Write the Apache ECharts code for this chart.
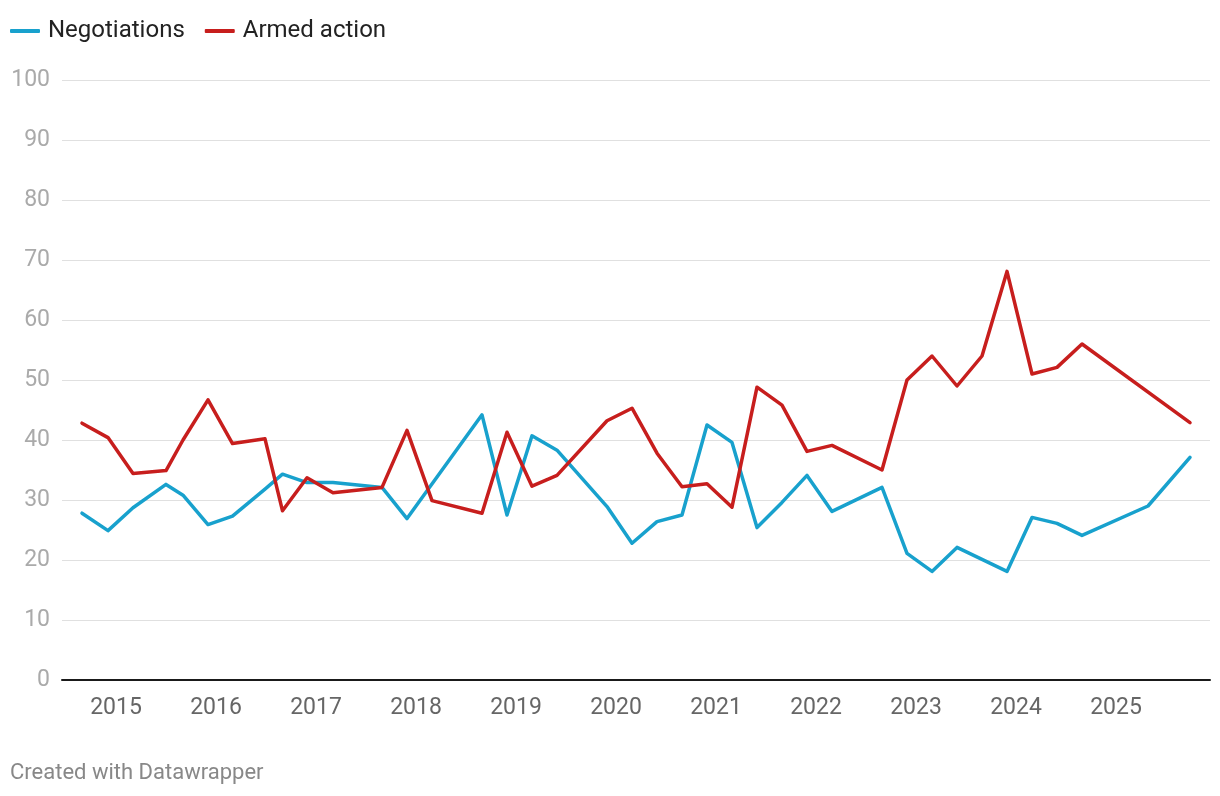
<!DOCTYPE html>
<html>
<head>
<meta charset="utf-8">
<script src="https://cdn.jsdelivr.net/npm/echarts@6/dist/echarts.min.js"></script>
<style>
html,body{margin:0;padding:0;background:#fff;}
#chart{width:1220px;height:796px;}
</style>
</head>
<body>
<div id="chart"></div>
<script>
// Survey dates as decimal years
const dates = [2014.66, 2014.92, 2015.17, 2015.50, 2015.67, 2015.92, 2016.165, 2016.49, 2016.665, 2016.91,
  2017.17, 2017.66, 2017.91, 2018.16, 2018.66, 2018.91, 2019.16, 2019.41, 2019.91, 2020.16,
  2020.41, 2020.66, 2020.91, 2021.16, 2021.41, 2021.66, 2021.91, 2022.16, 2022.66, 2022.91,
  2023.16, 2023.41, 2023.66, 2023.91, 2024.16, 2024.41, 2024.66, 2025.32, 2025.74];
const negotiations = [27.8, 24.9, 28.7, 32.6, 30.8, 25.9, 27.3, 31.8, 34.3, 32.9,
  32.9, 32.1, 26.9, null, 44.2, 27.5, 40.7, 38.3, 28.9, 22.8,
  26.4, 27.5, 42.5, 39.6, 25.4, 29.6, 34.1, 28.1, 32.1, 21.1,
  18.1, 22.1, null, 18.1, 27.1, 26.1, 24.1, 29.0, 37.1];
const armedAction = [42.8, 40.4, 34.4, 34.9, 40.0, 46.7, 39.4, 40.2, 28.2, 33.7,
  31.2, 32.1, 41.6, 29.9, 27.8, 41.3, 32.3, 34.1, 43.2, 45.3,
  37.8, 32.2, 32.7, 28.8, 48.8, 45.8, 38.1, 39.1, 35.0, 50.0,
  54.0, 49.0, 54.0, 68.1, 51.0, 52.1, 56.0, null, 42.9];
const yearTicks = [2015, 2016, 2017, 2018, 2019, 2020, 2021, 2022, 2023, 2024, 2025];
const seriesNames = ['Negotiations', 'Armed action'];

const pairs = arr => dates.map((d, i) => [d, arr[i]]);

const chart = echarts.init(document.getElementById('chart'), null, {renderer: 'canvas'});
const font = 'Roboto, "Noto Sans", sans-serif';
chart.setOption({
  animation: false,
  textStyle: {fontFamily: font},
  color: ['#18a1cd', '#c71e1d'],
  legend: {
    left: 10, top: 19, padding: 0,
    itemWidth: 30, itemHeight: 4, itemGap: 20,
    icon: 'roundRect',
    textStyle: {fontSize: 24, color: '#222', fontFamily: font, padding: [0, 0, 0, 3]},
    data: seriesNames
  },
  grid: {left: 62, right: 10, top: 80, bottom: 116, containLabel: false},
  xAxis: {
    type: 'value',
    min: 2014.46, max: 2025.94,
    splitLine: {show: false},
    axisLine: {show: true, onZero: true, lineStyle: {color: '#1a1a1a', width: 2}},
    axisTick: {show: false},
    axisLabel: {
      customValues: yearTicks,
      formatter: v => String(Math.round(v)),
      fontSize: 23, color: '#666', margin: 17, fontFamily: font
    }
  },
  yAxis: {
    type: 'value',
    min: 0, max: 100, interval: 10,
    axisLine: {show: false},
    axisTick: {show: false},
    splitLine: {lineStyle: {color: '#e0e0e0', width: 1}},
    axisLabel: {fontSize: 23, color: '#aaa', margin: 12, fontFamily: font}
  },
  series: [
    {name: seriesNames[0], type: 'line', data: pairs(negotiations), connectNulls: true,
     showSymbol: false, symbol: 'none', lineStyle: {width: 3.5, join: 'round', cap: 'round'}},
    {name: seriesNames[1], type: 'line', data: pairs(armedAction), connectNulls: true,
     showSymbol: false, symbol: 'none', lineStyle: {width: 3.5, join: 'round', cap: 'round'}}
  ],
  graphic: [{
    type: 'text', left: 10, top: 762,
    style: {text: 'Created with Datawrapper', fontSize: 22, fill: '#888', fontFamily: font}
  }]
});
</script>
</body>
</html>
